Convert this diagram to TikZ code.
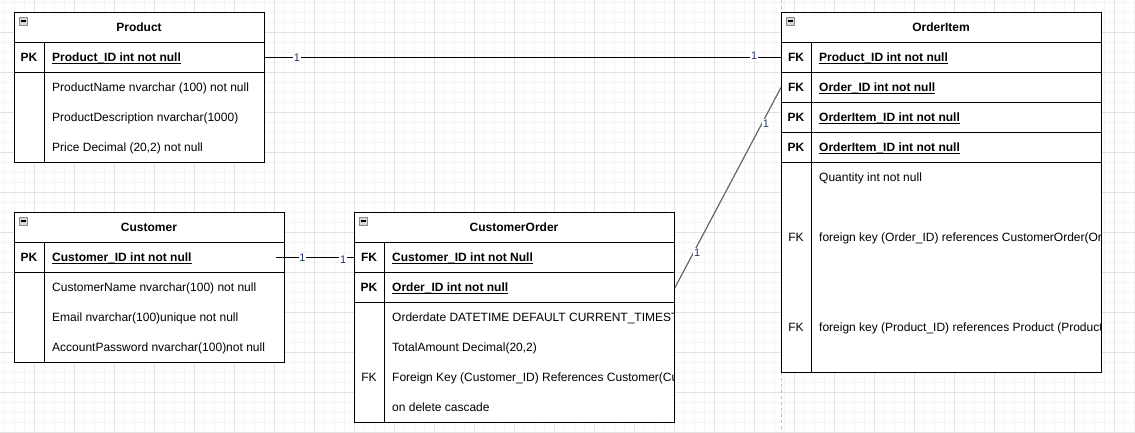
\documentclass[tikz,border=0pt]{standalone}
\usepackage{fontspec}
\setmainfont{Liberation Sans}
\definecolor{minorgrid}{HTML}{F4F4F4}
\definecolor{majorgrid}{HTML}{E2E2E2}
\definecolor{pageline}{HTML}{BDBDBD}
\definecolor{lblblue}{HTML}{1F3A70}
\definecolor{relgray}{HTML}{666666}
\definecolor{iconfill}{HTML}{D8D8D8}
\definecolor{iconedge}{HTML}{8A8A8A}
\newcommand\fsz{\fontsize{12}{14}\selectfont}
\newcommand\keyul[1]{\setbox0\hbox{#1}\rlap{\rule[-1.8pt]{\wd0}{0.9pt}}\box0}
\tikzset{
  tablebox/.style={draw=black, line width=1pt, fill=white, anchor=north west, inner sep=0pt},
  keyrow/.style={draw=black, line width=1pt, anchor=north west, inner sep=0pt, minimum height=30pt},
  sepline/.style={draw=black, line width=1pt},
  titletxt/.style={anchor=base, inner sep=0pt, font=\fsz\bfseries},
  keytxt/.style={anchor=base, inner sep=0pt, font=\fsz\bfseries},
  keytxtn/.style={anchor=base, inner sep=0pt, font=\fsz},
  keyfield/.style={anchor=base west, inner sep=0pt, font=\fsz\bfseries},
  fieldtxt/.style={anchor=base west, inner sep=0pt, font=\fsz},
  iconbox/.style={draw=iconedge, fill=iconfill, line width=0.7pt},
  iconbar/.style={draw=black, line width=1.2pt},
  relline/.style={draw=black, line width=1pt},
  relgrayline/.style={draw=relgray, line width=1.2pt},
  edgelbl/.style={font=\fontsize{11}{12}\selectfont, text=lblblue, fill=white, inner sep=0.8pt},
}
\begin{document}
\begin{tikzpicture}[x=1pt,y=-1pt]
% background and grid
\fill[white] (0,0) rectangle (1135,432);
\useasboundingbox (0,0) rectangle (1135,432);
\foreach \x in {4,14,...,1134} \draw[minorgrid, line width=0.8pt] (\x,0) -- (\x,432);
\foreach \y in {2,12,...,432} \draw[minorgrid, line width=0.8pt] (0,\y) -- (1135,\y);
\foreach \x in {34,74,...,1134} \draw[majorgrid, line width=0.9pt] (\x,0) -- (\x,432);
\foreach \y in {32,72,...,432} \draw[majorgrid, line width=0.9pt] (0,\y) -- (1135,\y);
\draw[pageline, line width=0.9pt, dash pattern=on 3pt off 3pt] (781,0) -- (781,432);

% ---------------- Product ----------------
\node[tablebox, minimum width=250pt, minimum height=150pt] (P) at (14,12) {};
\draw[iconbox] (19,17) rectangle (27,25);
\draw[iconbar] (20.5,21) -- (25.5,21);
\node[titletxt] (Ptitle) at (139,31.6) {Product};
\draw[sepline] (14,42) -- (264,42);
\node[keyrow, minimum width=250pt] (pPK) at (14,42) {};
\draw[sepline] (44,42) -- (44,162);
\node[keytxt] (pPKk) at (29,61.6) {PK};
\node[keyfield] (pPKf) at (52,61.6) {\keyul{Product\_ID int not null}};
\node[fieldtxt] (pF1) at (52,91.6) {ProductName nvarchar (100) not null};
\node[fieldtxt] (pF2) at (52,121.6) {ProductDescription nvarchar(1000)};
\node[fieldtxt] (pF3) at (52,151.6) {Price Decimal (20,2) not null};

% ---------------- Customer ----------------
\node[tablebox, minimum width=270pt, minimum height=150pt] (C) at (14,212) {};
\draw[iconbox] (19,217) rectangle (27,225);
\draw[iconbar] (20.5,221) -- (25.5,221);
\node[titletxt] (Ctitle) at (149,231.6) {Customer};
\node[keyrow, minimum width=270pt] (cPK) at (14,242) {};
\draw[sepline] (44,242) -- (44,362);
\node[keytxt] (cPKk) at (29,261.6) {PK};
\node[keyfield] (cPKf) at (52,261.6) {\keyul{Customer\_ID int not null}};
\node[fieldtxt] (cF1) at (52,291.6) {CustomerName nvarchar(100) not null};
\node[fieldtxt] (cF2) at (52,321.6) {Email nvarchar(100)unique not null};
\node[fieldtxt] (cF3) at (52,351.6) {AccountPassword nvarchar(100)not null};

% ---------------- CustomerOrder ----------------
\node[tablebox, minimum width=320pt, minimum height=210pt] (O) at (354,212) {};
\draw[iconbox] (359,217) rectangle (367,225);
\draw[iconbar] (360.5,221) -- (365.5,221);
\node[titletxt] (Otitle) at (514,231.6) {CustomerOrder};
\node[keyrow, minimum width=320pt] (oFK) at (354,242) {};
\node[keyrow, minimum width=320pt] (oPK) at (354,272) {};
\draw[sepline] (384,242) -- (384,422);
\begin{scope}
\clip (354,212) rectangle (673.5,422);
\node[keytxt] (oFKk) at (369,261.6) {FK};
\node[keyfield] (oFKf) at (392,261.6) {\keyul{Customer\_ID int not Null}};
\node[keytxt] (oPKk) at (369,291.6) {PK};
\node[keyfield] (oPKf) at (392,291.6) {\keyul{Order\_ID int not null}};
\node[fieldtxt] (oF1) at (392,321.6) {Orderdate DATETIME DEFAULT CURRENT\_TIMESTA};
\node[fieldtxt] (oF2) at (392,351.6) {TotalAmount Decimal(20,2)};
\node[keytxtn] (oF3k) at (369,381.6) {FK};
\node[fieldtxt] (oF3) at (392,381.6) {Foreign Key (Customer\_ID) References Customer(Cu};
\node[fieldtxt] (oF4) at (392,411.6) {on delete cascade};
\end{scope}

% ---------------- OrderItem ----------------
\node[tablebox, minimum width=320pt, minimum height=360pt] (I) at (781,12) {};
\draw[iconbox] (786,17) rectangle (794,25);
\draw[iconbar] (787.5,21) -- (792.5,21);
\node[titletxt] (Ititle) at (941,31.6) {OrderItem};
\node[keyrow, minimum width=320pt] (iFK1) at (781,42) {};
\node[keyrow, minimum width=320pt] (iFK2) at (781,72) {};
\node[keyrow, minimum width=320pt] (iPK1) at (781,102) {};
\node[keyrow, minimum width=320pt] (iPK2) at (781,132) {};
\draw[sepline] (811,42) -- (811,372);
\begin{scope}
\clip (781,12) rectangle (1100.5,372);
\node[keytxt] (iFK1k) at (796,61.6) {FK};
\node[keyfield] (iFK1f) at (819,61.6) {\keyul{Product\_ID int not null}};
\node[keytxt] (iFK2k) at (796,91.6) {FK};
\node[keyfield] (iFK2f) at (819,91.6) {\keyul{Order\_ID int not null}};
\node[keytxt] (iPK1k) at (796,121.6) {PK};
\node[keyfield] (iPK1f) at (819,121.6) {\keyul{OrderItem\_ID int not null}};
\node[keytxt] (iPK2k) at (796,151.6) {PK};
\node[keyfield] (iPK2f) at (819,151.6) {\keyul{OrderItem\_ID int not null}};
\node[fieldtxt] (iF1) at (819,181.6) {Quantity int not null};
\node[keytxtn] (iF2k) at (796,241.6) {FK};
\node[fieldtxt] (iF2) at (819,241.6) {foreign key (Order\_ID) references CustomerOrder(Or};
\node[keytxtn] (iF3k) at (796,331.6) {FK};
\node[fieldtxt] (iF3) at (819,331.6) {foreign key (Product\_ID) references Product (Product};
\end{scope}

% ---------------- Relationships ----------------
\draw[relline] (pPK.east) -- node[edgelbl, pos=0.062] (r1a) {1} node[edgelbl, pos=0.948, yshift=1.5pt] (r1b) {1} (iFK1.west);
\coordinate (cOut) at ([xshift=-9pt]cPK.east);
\draw[relline] (cOut) -- node[edgelbl, pos=0.338, yshift=-0.5pt] (r2a) {1} node[edgelbl, pos=0.861, yshift=-2pt] (r2b) {1} (oFK.west);
\draw[relgrayline] (oPK.east) -- node[edgelbl, pos=0.175, xshift=3.5pt] (r3a) {1} node[edgelbl, pos=0.82, xshift=4pt] (r3b) {1} (iFK2.west);
\end{tikzpicture}
\end{document}
